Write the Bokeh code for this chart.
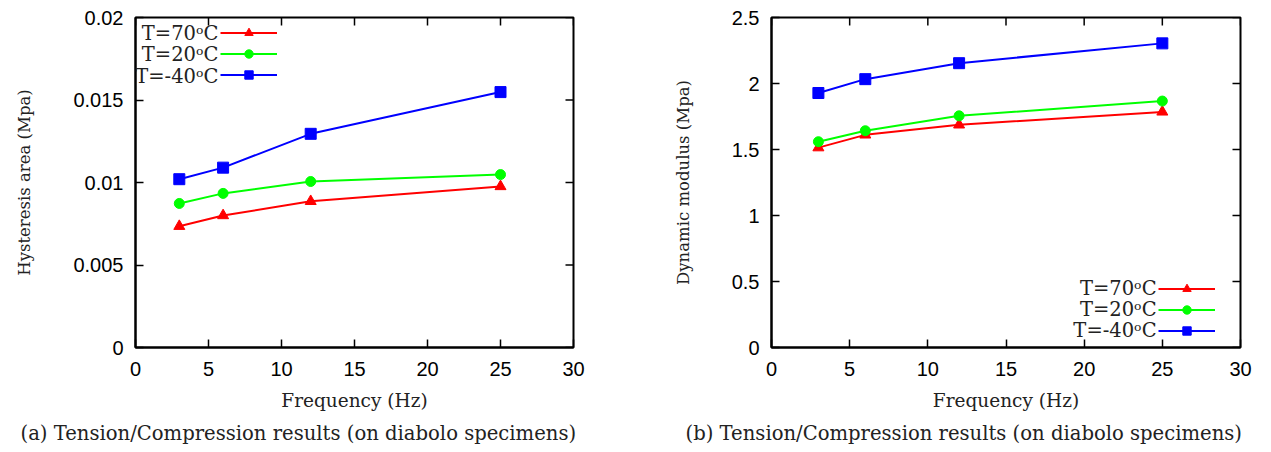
import math
from bokeh.plotting import figure
from bokeh.models import (FixedTicker, CustomJSTickFormatter, Range1d,
                          Legend, LegendItem, Label, Title)
from bokeh.layouts import row
from bokeh.embed import file_html
from bokeh.resources import INLINE

# ---------------- data ----------------
freq = [3, 6, 12, 25]
hyst_70 = [0.00735, 0.0080, 0.00886, 0.00976]
hyst_20 = [0.00873, 0.00934, 0.01006, 0.01048]
hyst_m40 = [0.0102, 0.0109, 0.01295, 0.01548]
mod_70 = [1.514, 1.611, 1.687, 1.785]
mod_20 = [1.559, 1.642, 1.755, 1.867]
mod_m40 = [1.928, 2.033, 2.154, 2.304]
series_labels = ["T=70ᵒC", "T=20ᵒC", "T=-40ᵒC"]
series_colors = ["#ff0000", "#00ff00", "#0000ff"]
series_markers = ["triangle", "circle", "square"]
x_ticks = [0, 5, 10, 15, 20, 25, 30]
hyst_ticks = [0, 0.005, 0.01, 0.015, 0.02]
mod_ticks = [0, 0.5, 1, 1.5, 2, 2.5]

SANS = "Liberation Sans"
SERIF = "DejaVu Serif"
TXT = "#222222"
fmt = CustomJSTickFormatter(code="return String(Number(tick.toPrecision(6)));")


def style_axis(ax, ticks, label_size):
    ax.ticker = FixedTicker(ticks=ticks)
    ax.formatter = fmt
    ax.major_tick_in = 8
    ax.major_tick_out = 0
    ax.minor_tick_line_color = None
    ax.axis_line_color = "black"
    ax.axis_line_width = 2
    ax.major_tick_line_color = "black"
    ax.major_tick_line_width = 1.5
    ax.major_label_text_font = SANS
    ax.major_label_text_font_size = "20px"
    ax.major_label_text_color = "black"
    ax.axis_label_text_font = SERIF
    ax.axis_label_text_font_size = label_size
    ax.axis_label_text_font_style = "normal"
    ax.axis_label_text_color = TXT


def make_panel(series, yticks, ymax, ylabel, caption, width, bl, br,
               cap_offset, leg_loc, leg_text_pos):
    p = figure(width=width, height=450, output_backend="svg", toolbar_location=None,
               x_range=Range1d(0, 30), y_range=Range1d(0, ymax),
               min_border_left=bl, min_border_right=br, min_border_top=17,
               min_border_bottom=101)
    p.grid.visible = False
    p.outline_line_color = "black"
    p.outline_line_width = 2
    p.background_fill_color = "white"
    p.border_fill_color = "white"

    xa = p.xaxis[0]
    ya = p.yaxis[0]
    style_axis(xa, x_ticks, "18.5px")
    style_axis(ya, yticks, "16.5px")
    xa.major_label_standoff = 14
    ya.major_label_standoff = 12
    xa.axis_label = "Frequency (Hz)"
    ya.axis_label = ylabel
    xa.axis_label_standoff = 11
    ya.axis_label_standoff = 36

    # mirrored inward ticks on top and right edges (no labels)
    p.ray(x=x_ticks, y=[ymax] * len(x_ticks), length=8, length_units="screen",
          angle=-math.pi / 2, line_color="black", line_width=1.5)
    p.ray(x=[30] * len(yticks), y=yticks, length=8, length_units="screen",
          angle=math.pi, line_color="black", line_width=1.5)

    items = []
    for vals, col, mk in zip(series, series_colors, series_markers):
        lr = p.line(freq, vals, line_color=col, line_width=2)
        sr = p.scatter(freq, vals, marker=mk, size=11 if mk != "circle" else 10,
                       fill_color=col, line_color=col)
        items.append(LegendItem(label=" ", renderers=[lr, sr]))

    leg = Legend(items=items, location=leg_loc, glyph_width=57, glyph_height=21,
                 label_height=21, label_width=0, label_standoff=0, spacing=0,
                 padding=0, margin=0, border_line_color=None,
                 background_fill_alpha=0, label_text_font_size="1px")
    p.add_layout(leg, "center")

    (tx, ty_list) = leg_text_pos
    for lab, ty in zip(series_labels, ty_list):
        p.add_layout(Label(x=tx, y=ty, text=lab, text_align="right",
                           text_baseline="middle", text_font=SERIF,
                           text_font_size="19.5px", text_color=TXT))

    p.add_layout(Title(text=caption, align="left", offset=cap_offset, standoff=12,
                       text_font=SERIF, text_font_size="19.6px",
                       text_font_style="normal", text_color=TXT), "below")
    return p


p1 = make_panel([hyst_70, hyst_20, hyst_m40], hyst_ticks, 0.02,
                "Hysteresis area (Mpa)",
                "(a) Tension/Compression results (on diabolo specimens)",
                635, 135, 62, -115, (85, 262),
                (5.68, [0.01904, 0.01777, 0.01645]))
p2 = make_panel([mod_70, mod_20, mod_m40], mod_ticks, 2.5,
                "Dynamic modulus (Mpa)",
                "(b) Tension/Compression results (on diabolo specimens)",
                628, 136, 23, -86, (387, 6),
                (24.63, [0.444, 0.286, 0.128]))

layout = row(p1, p2)
open("out.html", "w").write(file_html(layout, INLINE))
